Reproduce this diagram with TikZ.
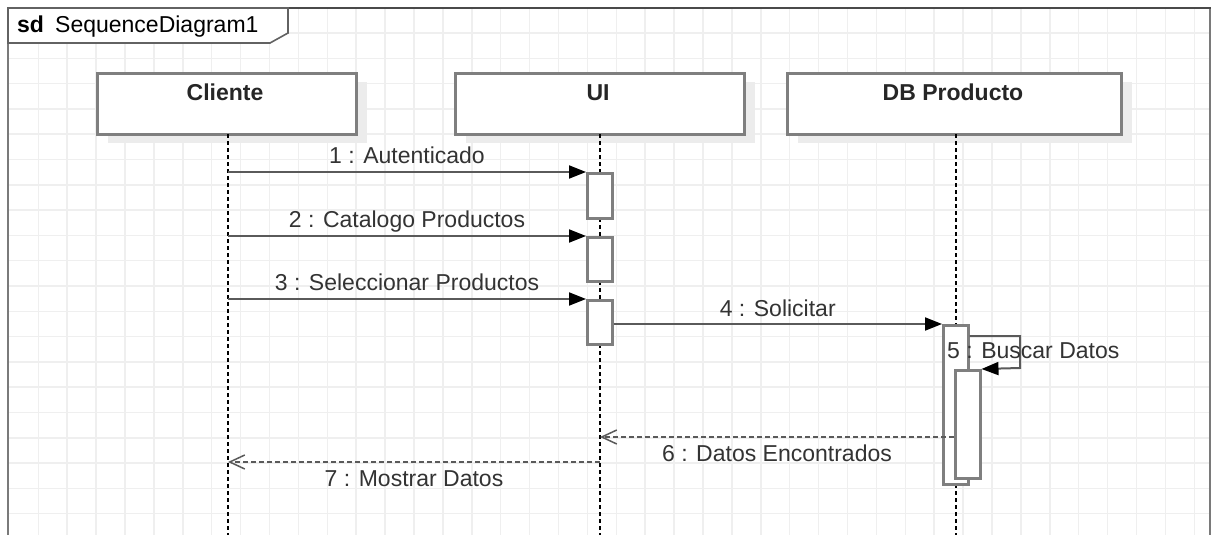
\documentclass[tikz,border=0pt]{standalone}
\usepackage{fontspec}
\setmainfont{Liberation Sans}
\usetikzlibrary{arrows.meta}
\definecolor{gridc}{HTML}{EFEFEF}
\definecolor{framec}{HTML}{7A7A7A}
\definecolor{framedark}{HTML}{4A4A4A}
\definecolor{boxc}{HTML}{7F7F7F}
\definecolor{shadowc}{HTML}{ECECEC}
\definecolor{msgc}{HTML}{5A5A5A}
\definecolor{txtc}{HTML}{333333}
\tikzset{
  gridline/.style={draw=gridc, line width=1.5pt},
  framestyle/.style={draw=framec, line width=2.5pt},
  lifebox/.style={draw=boxc, fill=white, line width=2.5pt, inner sep=0pt, anchor=north west},
  boxtext/.style={font=\fontsize{23}{27}\selectfont\bfseries, text=black!85, anchor=base, inner sep=0pt},
  lifeline/.style={draw=black, line width=1.5pt, dash pattern=on 4pt off 3pt},
  actbox/.style={draw=boxc, fill=white, line width=2.5pt, inner sep=0pt, anchor=north west, minimum width=25pt},
  msg/.style={draw=msgc, line width=2pt, -{Triangle[length=17pt,width=13pt,fill=black,color=black]}},
  reply/.style={draw=msgc, line width=1.6pt, dash pattern=on 5pt off 3pt, -{Straight Barb[length=15pt,width=14pt,line width=1.5pt,color=msgc]}},
  lbl/.style={font=\fontsize{23}{27}\selectfont, text=txtc, inner sep=0pt, anchor=base},
}
\begin{document}
\begin{tikzpicture}[x=1pt,y=-1pt]
\useasboundingbox (0,0) rectangle (1212,535);
\fill[white] (0,0) rectangle (1212,535);
% grid
\foreach \i in {1,...,41} \draw[gridline] ({9.4+28.9*\i},9) -- ({9.4+28.9*\i},535);
\foreach \j in {1,...,20} \draw[gridline] (9,{7.7+25.3*\j}) -- (1209,{7.7+25.3*\j});
% frame
\draw[framestyle] (8,536) -- (8,8);
\draw[framestyle] (1210,8) -- (1210,536);
\draw[draw=framedark, line width=2.5pt] (7,8) -- (1211,8);
\draw[draw=framec!80!black, line width=1.6pt, fill=white] (8,8) -- (288,8) -- (288,33) -- (270,43) -- (8,43) -- cycle;
\node[font=\fontsize{23}{27}\selectfont\bfseries, inner sep=0pt, anchor=base west] (sd) at (17,33) {sd};
\node[font=\fontsize{23}{27}\selectfont, inner sep=0pt, anchor=base west] (sdname) at (55,33) {SequenceDiagram1};
% shadows
\fill[shadowc] (108,82) rectangle (367,143);
\fill[shadowc] (466,82) rectangle (755,143);
\fill[shadowc] (798,82) rectangle (1132,143);
% lifeline boxes
\node[lifebox, minimum width=259pt, minimum height=61pt] (cli) at (96,72) {};
\node[lifebox, minimum width=289pt, minimum height=61pt] (ui) at (454,72) {};
\node[lifebox, minimum width=334pt, minimum height=61pt] (db) at (786,72) {};
\node[boxtext] (clit) at (225,100) {Cliente};
\node[boxtext] (uit) at (598,100) {UI};
\node[boxtext] (dbt) at (953,100) {DB Producto};
% lifelines
\coordinate (lc) at (228,134);
\coordinate (lu) at (600,134);
\coordinate (ld) at (956,134);
\coordinate (lcb) at (228,536);
\coordinate (lub) at (600,536);
\coordinate (ldb) at (956,536);
\draw[lifeline] (lc) -- (lcb);
\draw[lifeline] (lu) -- (lub);
\draw[lifeline] (ld) -- (ldb);
% activations
\node[actbox, minimum height=45pt] (a1) at (586,172) {};
\node[actbox, minimum height=44pt] (a2) at (586,236) {};
\node[actbox, minimum height=44pt] (a3) at (586,299) {};
\node[actbox, minimum height=159pt] (d1) at (942,324) {};
\node[actbox, minimum height=108pt] (d2) at (954,369) {};
% messages
\draw[msg] (lc |- a1.north west) -- node[lbl, midway, yshift=9pt] {1 : Autenticado} (a1.north west);
\draw[msg] (lc |- a2.north west) -- node[lbl, midway, yshift=9pt] {2 : Catalogo Productos} (a2.north west);
\draw[msg] (lc |- a3.north west) -- node[lbl, midway, yshift=9pt] {3 : Seleccionar Productos} (a3.north west);
\draw[msg] (a3.east |- d1.north west) -- node[lbl, midway, yshift=8pt] {4 : Solicitar} (d1.north west);
\coordinate (s1) at ([yshift=-12pt]d1.north east);
\coordinate (s2) at (1020,336);
\coordinate (s3) at (1020,368);
\draw[msg] (s1) -- (s2) -- (s3) -- (d2.north east);
\node[lbl, anchor=base west] (m5) at (947,358) {5 : Buscar Datos};
\coordinate (r6) at (954,437);
\draw[reply] (r6) -- node[lbl, midway, yshift=-24pt] {6 : Datos Encontrados} (lu |- r6);
\coordinate (r7) at (600,462);
\draw[reply] (r7) -- node[lbl, midway, yshift=-24pt] {7 : Mostrar Datos} (lc |- r7);
\end{tikzpicture}
\end{document}
